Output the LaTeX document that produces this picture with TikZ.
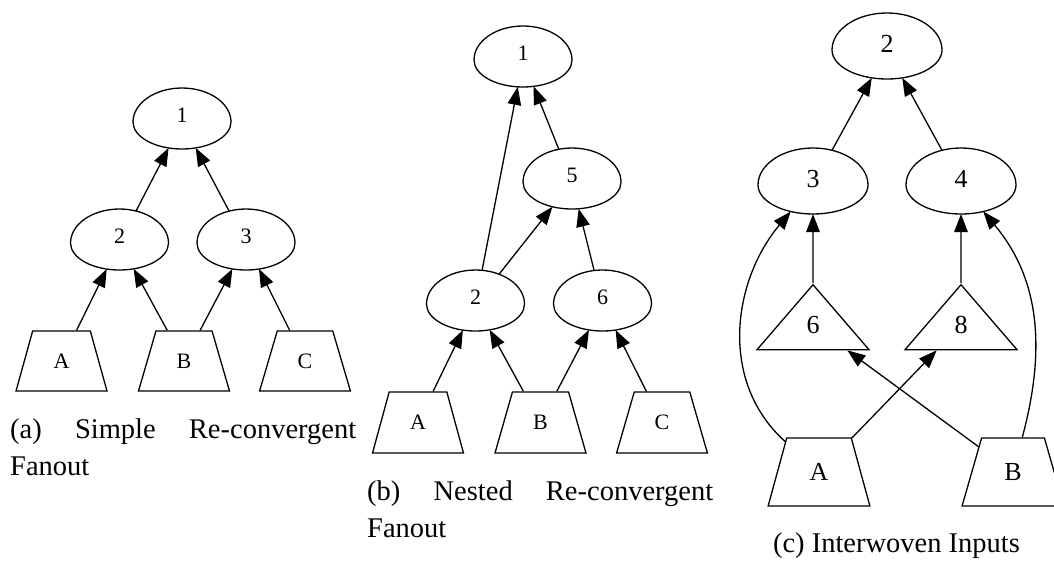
\documentclass[tikz,border=0pt]{standalone}
\usepackage{fontspec}
\setmainfont{Liberation Serif}
\usetikzlibrary{arrows.meta,shapes.geometric}

% A dome-shaped gate: taller half-ellipse on top, flatter one below.
\makeatletter
\pgfkeys{/pgf/dome top/.initial=34pt,/pgf/dome bottom/.initial=27pt}
\pgfdeclareshape{dome}{%
  \savedanchor\centerpoint{%
    \pgf@x=.5\wd\pgfnodeparttextbox
    \pgf@y=.5\ht\pgfnodeparttextbox
    \advance\pgf@y by -.5\dp\pgfnodeparttextbox
  }%
  \saveddimen\domerx{\pgfmathsetlength\pgf@x{\pgfkeysvalueof{/pgf/minimum width}}\pgf@x=.5\pgf@x}%
  \saveddimen\domert{\pgfmathsetlength\pgf@x{\pgfkeysvalueof{/pgf/dome top}}}%
  \saveddimen\domerb{\pgfmathsetlength\pgf@x{\pgfkeysvalueof{/pgf/dome bottom}}}%
  \anchor{center}{\centerpoint}%
  \anchor{text}{\pgfpointorigin}%
  \anchor{north}{\centerpoint\advance\pgf@y by \domert}%
  \anchor{south}{\centerpoint\advance\pgf@y by -\domerb}%
  \anchor{west}{\centerpoint\advance\pgf@x by -\domerx}%
  \anchor{east}{\centerpoint\advance\pgf@x by \domerx}%
  \anchorborder{%
    \ifdim\pgf@y>0pt\edef\dome@ry{\domert}\else\edef\dome@ry{\domerb}\fi
    \edef\pgf@marshal{\noexpand\pgfpointborderellipse
      {\noexpand\pgfqpoint{\the\pgf@x}{\the\pgf@y}}%
      {\noexpand\pgfqpoint{\domerx}{\dome@ry}}}%
    \pgf@process{\pgf@marshal}%
    \pgf@xa=\pgf@x \pgf@ya=\pgf@y
    \centerpoint
    \advance\pgf@x by \pgf@xa
    \advance\pgf@y by \pgf@ya
  }%
  \backgroundpath{%
    \centerpoint
    \pgf@xc=\pgf@x \pgf@yc=\pgf@y
    \advance\pgf@x by -\domerx
    \pgfpathmoveto{\pgfqpoint{\pgf@x}{\pgf@yc}}%
    \pgfpatharc{180}{0}{\domerx and \domert}%
    \pgfpatharc{0}{-180}{\domerx and \domerb}%
    \pgfpathclose
  }%
}
\makeatother

\tikzset{
  gate/.style={shape=dome, draw, line width=1.3pt, inner sep=0pt,
    minimum width=98pt, dome top=34pt, dome bottom=27pt,
    text height=15pt, text depth=14pt, font=\fontsize{22}{22}\selectfont},
  biggate/.style={gate, minimum width=110pt, dome top=37pt, dome bottom=29pt,
    text height=18pt, text depth=14pt, font=\fontsize{26}{26}\selectfont},
  inport/.style={trapezium, draw, line width=1.3pt, inner sep=0pt,
    trapezium left angle=72.5, trapezium right angle=72.5, trapezium stretches=true,
    minimum width=91pt, minimum height=60pt, font=\fontsize{22}{22}\selectfont},
  biginport/.style={inport, minimum width=102pt, minimum height=68pt,
    font=\fontsize{26}{26}\selectfont},
  tri/.style={isosceles triangle, draw, line width=1.3pt, inner sep=0pt,
    shape border rotate=90, isosceles triangle stretches=true,
    minimum width=112pt, minimum height=65pt, font=\fontsize{26}{26}\selectfont},
  wire/.style={line width=1.3pt, -{Triangle[length=18pt,width=13.5pt]}},
  caption/.style={inner sep=0pt, font=\fontsize{28.5}{37}\selectfont},
}

\begin{document}
\begin{tikzpicture}[x=1pt,y=1pt]
\useasboundingbox (0,0) rectangle (1054,-563);

% (a) simple re-convergent fanout
\node[gate] (a1) at (182,-122) {1};
\node[gate] (a2) at (119.5,-243) {2};
\node[gate] (a3) at (246,-243) {3};
\node[inport] (aA) at (61.5,-361) {A};
\node[inport] (aB) at (184,-361) {B};
\node[inport] (aC) at (305,-361) {C};
\draw[wire] (a2) -- (a1);
\draw[wire] (a3) -- (a1);
\draw[wire] (aA) -- (a2);
\draw[wire] (aB) -- (a2);
\draw[wire] (aB) -- (a3);
\draw[wire] (aC) -- (a3);
\node[caption, text width=346pt, align=justify, anchor=base west] (capA) at (10,-438)
  {(a)\hfill Simple\hfill Re-convergent\par Fanout};

% (b) nested re-convergent fanout
\node[gate] (b1) at (523,-60) {1};
\node[gate] (b5) at (572,-182) {5};
\node[gate] (b2) at (475.5,-304) {2};
\node[gate] (b6) at (602.5,-304) {6};
\node[inport, minimum height=61pt] (bA) at (418,-422.5) {A};
\node[inport, minimum height=61pt] (bB) at (540.5,-422.5) {B};
\node[inport, minimum height=61pt] (bC) at (662,-422.5) {C};
\draw[wire] (b2) -- (b1);
\draw[wire] (b5) -- (b1);
\draw[wire] (b2) -- (b5);
\draw[wire] (b6) -- (b5);
\draw[wire] (bA) -- (b2);
\draw[wire] (bB) -- (b2);
\draw[wire] (bB) -- (b6);
\draw[wire] (bC) -- (b6);
\node[caption, text width=346pt, align=justify, anchor=base west] (capB) at (367,-500)
  {(b)\hfill Nested\hfill Re-convergent\par Fanout};

% (c) interwoven inputs
\node[biggate] (c2) at (887,-50) {2};
\node[biggate] (c3) at (813,-185) {3};
\node[biggate] (c4) at (961,-185) {4};
\node[tri, anchor=apex] (t6) at (813,-283) {6};
\node[tri, anchor=apex] (t8) at (961,-283) {8};
\node[biginport] (cA) at (819,-472) {A};
\node[biginport] (cB) at (1013,-472) {B};
\draw[wire] (c3) -- (c2);
\draw[wire] (c4) -- (c2);
\draw[wire] (t6) -- (c3);
\draw[wire] (t8) -- (c4);
\draw[wire] (cA) to[out=138,in=230] (c3);
\draw[wire] (cB) to[out=75,in=310] (c4);
\draw[wire] (cA) -- (t8);
\draw[wire] (cB) -- (t6);
\node[caption, anchor=base] (capC) at (896.5,-552) {(c) Interwoven Inputs};
\end{tikzpicture}
\end{document}
